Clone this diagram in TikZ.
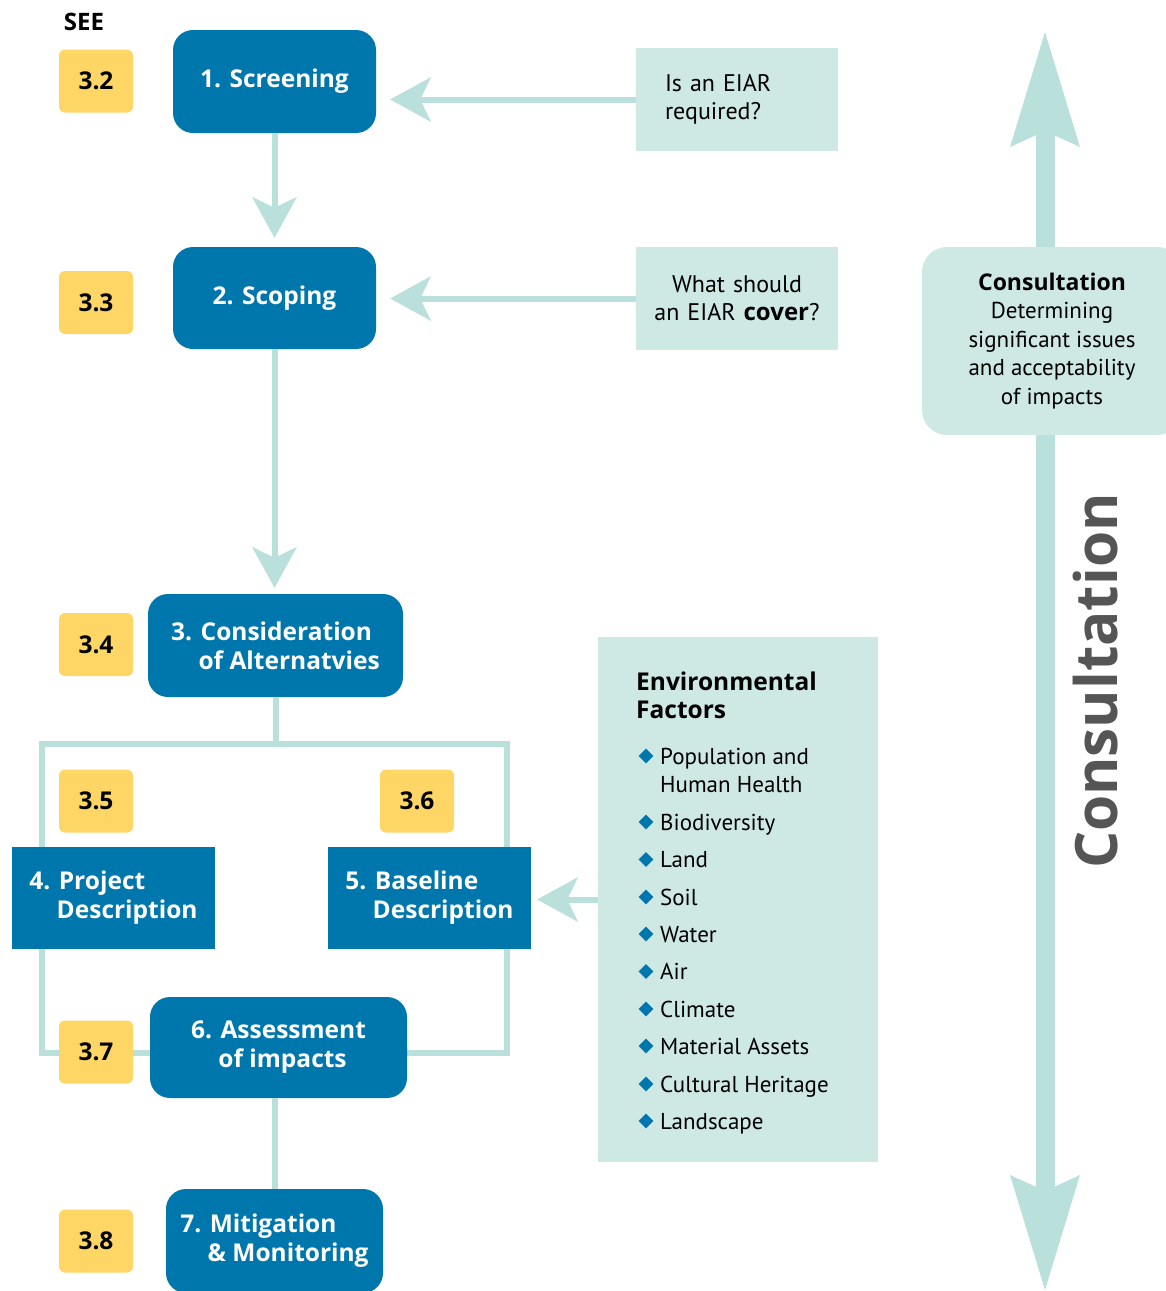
\documentclass[tikz,border=0pt]{standalone}
\usepackage{fontspec}
\setmainfont{PT Sans}
\newfontfamily\headfont{Open Sans}
\usepackage{tikz}
\usetikzlibrary{arrows.meta,shapes.geometric}
\definecolor{stepblue}{RGB}{0,119,172}
\definecolor{badgeyellow}{RGB}{254,214,102}
\definecolor{linkteal}{RGB}{185,224,218}
\definecolor{paleteal}{RGB}{206,232,228}
\definecolor{labelgray}{RGB}{85,85,85}
\newcommand{\numpad}[1]{\hphantom{#1\ }}
\newcommand{\boldword}[1]{{\headfont\bfseries #1}}

\begin{document}
\begin{tikzpicture}[x=1pt,y=-1pt,
	stepbox/.style={fill=stepblue,rounded corners=20pt,text=white,align=left,inner sep=0pt,
		font=\fontsize{24.5}{29}\selectfont\headfont\bfseries},
	flatbox/.style={stepbox,sharp corners},
	badge/.style={fill=badgeyellow,rounded corners=6pt,minimum width=74pt,minimum height=63pt,
		font=\fontsize{24.5}{28}\selectfont\headfont\bfseries},
	askbox/.style={fill=paleteal,minimum width=202pt,minimum height=103pt,
		inner sep=0pt,font=\fontsize{24}{28}\selectfont},
	link/.style={draw=linkteal,line width=6pt},
	flow/.style={link,-{Stealth[length=41pt,width=45pt,inset=11pt,line width=0pt]}},
	bigflow/.style={draw=linkteal,line width=19pt,
		{Stealth[length=115pt,width=70pt,inset=16pt,line width=0pt]}-{Stealth[length=115pt,width=70pt,inset=16pt,line width=0pt]}},
	factor/.style={anchor=base west,inner sep=0pt,font=\fontsize{23}{28}\selectfont},
	bullet/.style={diamond,fill=stepblue,minimum width=15pt,minimum height=15pt,inner sep=0pt}]
	\useasboundingbox (0,0) rectangle (1166,1291);
	%% consultation arrow down the right side, box on top of it
	\coordinate (consulttop) at (1045,32);\coordinate (consultbot) at (1045,1290);
	\draw[bigflow] (consulttop) -- (consultbot);
	\node[fill=paleteal,rounded corners=25pt,minimum width=260pt,minimum height=188pt,align=center,
		font=\fontsize{23}{28.5}\selectfont] (consult) at (1052,341)
		{\boldword{Consultation}\\Determining\\significant issues\\and acceptability\\of impacts};
	\node[rotate=90,text=labelgray,font=\fontsize{58.5}{64}\selectfont\headfont\bfseries] (consultlabel) at (1096,681) {Consultation};
	%% frame round steps 4, 5 and 6
	\coordinate (frameNW) at (41.5,743.5);\coordinate (frameSE) at (507,1053);
	\draw[link] (frameNW) rectangle (frameSE);
	%% steps
	\node[stepbox,minimum width=203pt,minimum height=103pt] (screen) at (274.5,81.5) {1. Screening};
	\node[stepbox,minimum width=203pt,minimum height=102pt] (scope) at (274.5,298) {2. Scoping};
	\node[stepbox,minimum width=255pt,minimum height=103pt] (alt) at (275.5,645.5) {3. Consideration\\\numpad{3.}of Alternatvies};
	\node[flatbox,minimum width=203pt,minimum height=102pt] (proj) at (113.5,898) {4. Project\\\numpad{4.}Description};
	\node[flatbox,minimum width=203pt,minimum height=102pt] (base) at (429.5,898) {5. Baseline\\\numpad{5.}Description};
	\node[stepbox,minimum width=257pt,minimum height=101pt] (assess) at (278.5,1047.5) {6. Assessment\\\numpad{6.}of impacts};
	\node[stepbox,minimum width=217pt,minimum height=104pt] (mitig) at (274.5,1241) {7. Mitigation\\\numpad{7.}\& Monitoring};
	%% section badges
	\node[font=\fontsize{24}{28}\selectfont\headfont\bfseries] (seehead) at (84,22) {SEE};
	\foreach \y/\num [count=\i] in {81/3.2,302.5/3.3,644.5/3.4,801/3.5,1052/3.7,1241/3.8}
		\node[badge] (badge\i) at (96,\y) {\num};
	\node[badge] (badgesix) at (417,801) {3.6};
	%% questions
	\node[askbox,text width=144pt,align=left] (askneed) at (737,99.5) {Is an EIAR\\required?};
	\node[askbox,text width=190pt,align=center] (askscope) at (737,298.5) {What should\\an EIAR \boldword{cover}?};
	%% environmental factors
	\node[fill=paleteal,minimum width=280pt,minimum height=525pt] (env) at (738,899.5) {};
	\node[factor,anchor=north west,align=left,font=\fontsize{24.5}{28}\selectfont\headfont\bfseries] (envtitle) at (636,672) {Environmental\\Factors};
	\foreach \y/\txt [count=\i] in {764/Population and,792.5/Human Health,830/Biodiversity,867.5/Land,905/Soil,942/Water,
		979.5/Air,1017/Climate,1054/Material Assets,1092/Cultural Heritage,1129/Landscape}
		\node[factor] (fac\i) at (660,\y) {\txt};
	\foreach \y [count=\i] in {764,830,867.5,905,942,979.5,1017,1054,1092,1129}
		\node[bullet] (dot\i) at (646,\y-8) {};
	%% connectors
	\draw[flow,shorten >=14pt] (askneed.west) -- (askneed.west -| screen.east);
	\draw[flow,shorten >=14pt] (askscope.west) -- (askscope.west -| scope.east);
	\draw[flow,shorten >=9pt] (screen) -- (scope);
	\draw[flow,shorten >=6pt] (scope) -- (scope |- alt.north);
	\draw[flow,shorten >=6pt] (env.west) -- (env.west -| base.east);
	\draw[link] (alt) -- (alt.south |- frameNW);
	\draw[link] (mitig |- assess.south) -- (mitig);
\end{tikzpicture}
\end{document}
